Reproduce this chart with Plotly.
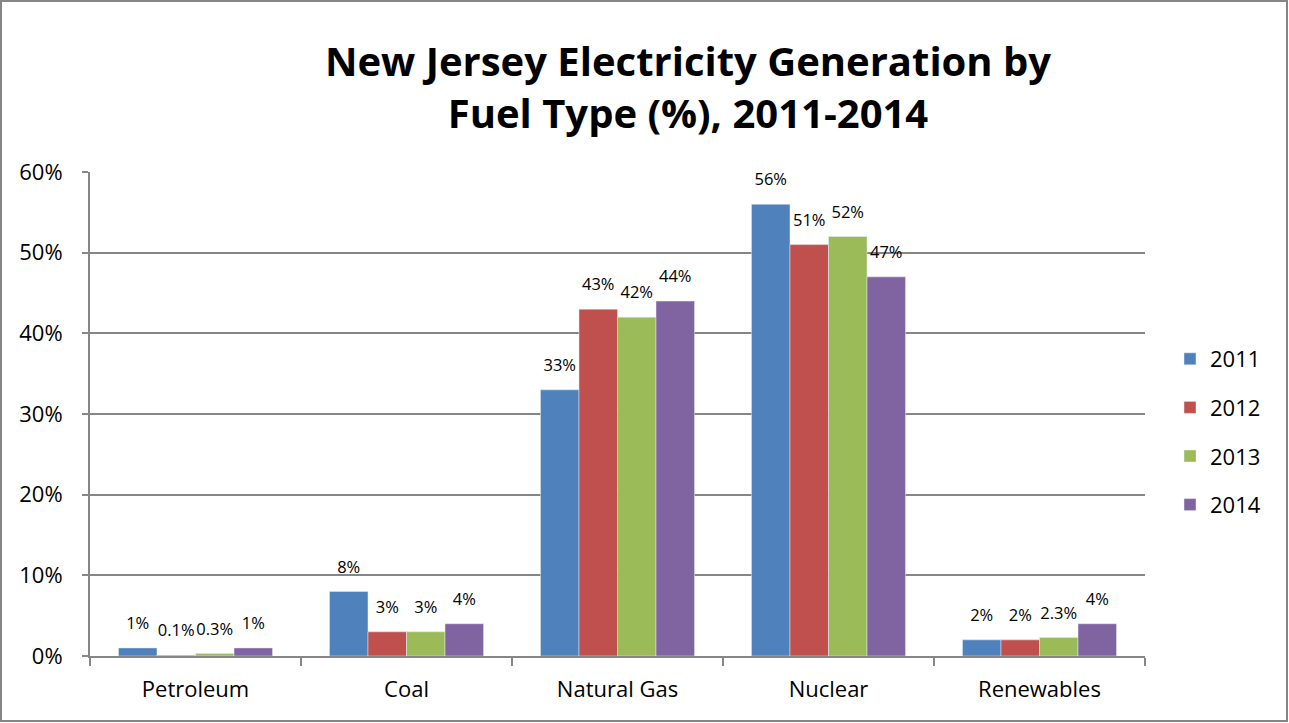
import plotly.graph_objects as go

categories = ["Petroleum", "Coal", "Natural Gas", "Nuclear", "Renewables"]
years = ["2011", "2012", "2013", "2014"]
values = {
    "2011": [1, 8, 33, 56, 2],
    "2012": [0.1, 3, 43, 51, 2],
    "2013": [0.3, 3, 42, 52, 2.3],
    "2014": [1, 4, 44, 47, 4],
}
colors = {"2011": "#4F81BD", "2012": "#C0504D", "2013": "#9BBB59", "2014": "#8064A2"}
y_ticks = [0, 10, 20, 30, 40, 50, 60]

FONT = "'Open Sans', Lato, sans-serif"

fig = go.Figure()
for yr in years:
    vals = values[yr]
    fig.add_trace(go.Bar(
        x=categories,
        y=vals,
        name=yr,
        legendgroup=yr,
        offsetgroup=yr,
        alignmentgroup="all",
        marker=dict(color=colors[yr]),
    ))
    # labels as text-only scatter, grouped like the bars; the hidden marker
    # lifts the label a bit off the bar top like Excel does
    fig.add_trace(go.Scatter(
        x=categories,
        y=vals,
        mode="markers+text",
        offsetgroup=yr,
        alignmentgroup="all",
        text=[f"{v:g}%" for v in vals],
        textposition="top center",
        textfont=dict(size=16.5, color="black", family=FONT),
        marker=dict(size=22, opacity=0),
        showlegend=False,
        hoverinfo="skip",
        cliponaxis=False,
    ))

# plot area: x 90..1145, y 172..656
L, R, T, B = 90, 144, 172, 67
W, H = 1289, 723
pw, ph = W - L - R, H - T - B

def px_x(v):
    return (v - L) / pw

def px_y(v):
    return (H - B - v) / ph

fig.add_shape(type="rect", xref="paper", yref="paper",
              x0=px_x(1), x1=px_x(1287), y0=px_y(721), y1=px_y(1),
              line=dict(color="#868686", width=2), fillcolor="rgba(0,0,0,0)", layer="below")

fig.update_layout(
    width=W, height=H,
    margin=dict(l=L, r=R, t=T, b=B),
    paper_bgcolor="white",
    plot_bgcolor="white",
    font=dict(family=FONT, color="black"),
    title=dict(
        text="<b>New Jersey Electricity Generation by<br>Fuel Type (%), 2011-2014</b>",
        x=688 / W, xanchor="center",
        y=1 - 76 / H, yanchor="top",
        font=dict(size=40, family=FONT, color="black"),
    ),
    barmode="group",
    bargap=0.27,
    bargroupgap=0,
    scattermode="group",
    scattergap=0.27,
    showlegend=True,
    legend=dict(
        x=px_x(1170), xanchor="left",
        y=px_y(432), yanchor="middle",
        font=dict(size=22, family=FONT, color="black"),
        tracegroupgap=17,
        itemwidth=30,
    ),
    xaxis=dict(
        showline=True, linecolor="#868686", linewidth=2,
        ticks="outside", tickson="boundaries", ticklen=8, tickcolor="#868686", tickwidth=2,
        tickfont=dict(size=22, family=FONT, color="black"),
        ticklabelstandoff=13,
        showgrid=False,
    ),
    yaxis=dict(
        range=[0, 60],
        tickvals=y_ticks,
        ticktext=[f"{t}%" for t in y_ticks],
        showline=True, linecolor="#868686", linewidth=2,
        ticks="outside", ticklen=6, tickcolor="#868686", tickwidth=2,
        ticklabelstandoff=15,
        showgrid=True, gridcolor="#868686", gridwidth=2,
        zeroline=False,
        tickfont=dict(size=22, family=FONT, color="black"),
    ),
)

fig.write_html("out.html", config={"displayModeBar": False},
               post_script="document.body.style.margin='0';")
